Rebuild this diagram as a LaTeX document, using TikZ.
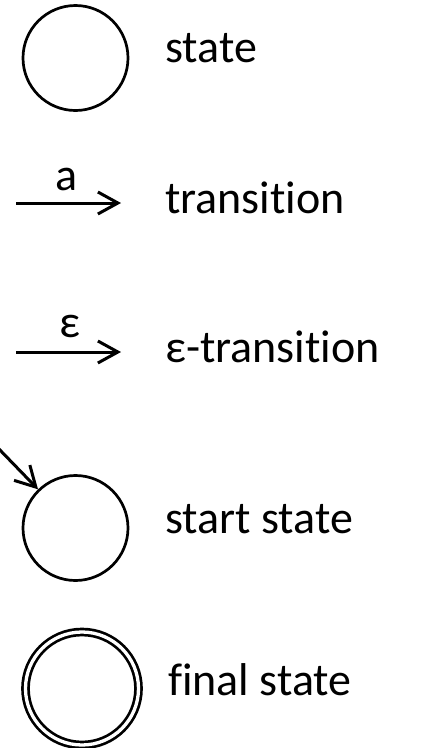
\documentclass[tikz,border=0pt]{standalone}
\usepackage{fontspec}
\setmainfont{Carlito}[Ligatures=NoCommon]
\usetikzlibrary{arrows.meta}

\begin{document}
\begin{tikzpicture}[x=1pt,y=-1pt,
        statenode/.style={circle,draw,line width=2.7pt,inner sep=0pt,minimum size=105pt},
        finalnode/.style={circle,draw,line width=2.7pt,double,double distance=3.3pt,inner sep=0pt,minimum size=113pt},
        trans/.style={line width=3pt,-{Straight Barb[length=20pt,width=22pt,line width=3pt]}},
        txt/.style={anchor=base west,inner sep=0pt,font=\fontsize{46}{52}\selectfont},
        lbl/.style={inner sep=0pt,font=\fontsize{46}{52}\selectfont}]
        \useasboundingbox (0,0) rectangle (423,748);
        % Plain state
        \node[statenode] (st) at (75.5,58) {};
        \node[txt] (stt) at (165,62) {state};
        % Transition
        \coordinate (a0) at (16,203);
        \coordinate (a1) at (121,203);
        \draw[trans] (a0) -- (a1);
        \node[lbl,anchor=base] (la) at (67,190) {a};
        \node[txt] (tt) at (165,213) {transition};
        % Epsilon transition
        \coordinate (e0) at (16,352);
        \coordinate (e1) at (121,352);
        \draw[trans] (e0) -- (e1);
        \node[lbl,anchor=base] (le) at (70,337) {ε};
        \node[txt] (et) at (165,362) {ε-transition};
        % Start state
        \node[statenode] (start) at (75.5,528) {};
        \coordinate (s0) at (-2,448);
        \draw[trans] (s0) -- (start);
        \node[txt] (sst) at (165,533) {start state};
        % Final state
        \node[finalnode] (fin) at (82,688.5) {};
        \node[txt] (ft) at (168,695) {final state};
    \end{tikzpicture}
\end{document}
